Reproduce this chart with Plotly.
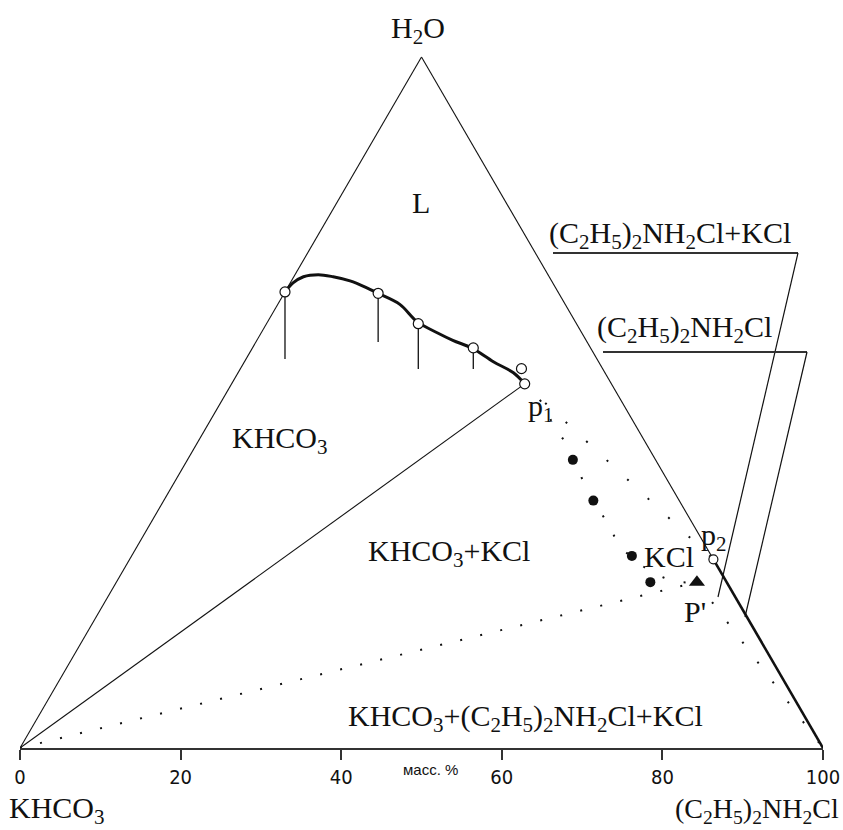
import numpy as np
import plotly.graph_objects as go

SQ = np.sqrt(3) / 2

# Compositions, mass %: a = (C2H5)2NH2Cl, w = H2O, KHCO3 = 100 - a - w
curve_a = [0.0, 0.35, 1.2, 2.9, 4.9, 7.3, 9.9, 11.7, 15.2, 18.6, 21.9, 24.4, 27.5, 31.0, 34.3, 36.5]
curve_w = [66.0, 67.3, 68.2, 68.5, 68.2, 67.6, 66.6, 65.8, 64.2, 61.7, 60.1, 59.0, 57.8, 55.9, 54.3, 52.7]

open_a = [0.0, 11.7, 18.9, 27.5, 35.0]
open_w = [66.0, 65.8, 61.4, 57.9, 54.9]

stub_end_a = [4.7, 15.3, 22.0, 29.0]
stub_end_w = [56.3, 58.75, 54.85, 54.85]

p1 = (36.5, 52.7)
p2 = (72.7, 27.3)
p_prime = (72.3, 24.0)

filled_a = [48.0, 53.5, 62.3, 66.5]
filled_w = [41.7, 35.8, 27.8, 24.0]

kcl_curve_a = [36.5, 40.2, 43.1, 46.0, 51.5, 57.1, 60.2, 64.1, 67.6, 70.4, 72.3]
kcl_curve_w = [52.7, 49.8, 46.7, 44.0, 37.9, 32.3, 29.2, 26.5, 24.75, 24.0, 24.0]

tick_vals = [0, 20, 40, 60, 80, 100]
tick_text = ["0", "20", "40", "60", "80", "100"]

KHCO3 = (0.0, 0.0)
AMINE = (100.0, 0.0)
WATER = (0.0, 100.0)


def cart(a, w):
    a = np.asarray(a, dtype=float)
    w = np.asarray(w, dtype=float)
    return a + w / 2.0, w * SQ


# pixel helpers for layout placement (figure is 843x830)
PX_X = 8.03
PX_Y = 7.979


def dx(px):
    return (px - 20) / PX_X


def dy(py):
    return (748 - py) / PX_Y


fig = go.Figure()
BLK = "#111111"


def line(a, w, width=1.0, dash="solid", color=BLK, shape="linear"):
    x, y = cart(a, w)
    fig.add_trace(go.Scatter(x=x, y=y, mode="lines", cliponaxis=False,
                             line=dict(color=color, width=width, dash=dash, shape=shape),
                             hoverinfo="skip", showlegend=False))


# triangle sides
line([KHCO3[0], WATER[0]], [KHCO3[1], WATER[1]], width=1.1)
line([WATER[0], AMINE[0]], [WATER[1], AMINE[1]], width=1.1)

# solubility curve of KHCO3
line(curve_a, curve_w, width=3.0, shape="spline")

# vertical stubs
for i in range(len(stub_end_a)):
    xs, ys = cart([open_a[i]], [open_w[i]])
    xe, ye = cart([stub_end_a[i]], [stub_end_w[i]])
    fig.add_trace(go.Scatter(x=[xs[0], xs[0]], y=[ys[0], ye[0]], mode="lines",
                             line=dict(color=BLK, width=1.3), hoverinfo="skip", showlegend=False))

# KHCO3 - p1 solid
line([KHCO3[0], p1[0]], [KHCO3[1], p1[1]], width=1.1)
# p1 - p2 dotted
line([p1[0], p2[0]], [p1[1], p2[1]], width=2, dash="2px,26px")
# KCl curve p1 - P'
line(kcl_curve_a, kcl_curve_w, width=2, dash="2px,20px", shape="spline")
# KHCO3 - P' dotted
line([KHCO3[0], p_prime[0]], [KHCO3[1], p_prime[1]], width=2, dash="2px,18.6px")
# P' - amine dotted
line([p_prime[0], AMINE[0]], [p_prime[1], AMINE[1]], width=2, dash="2px,23px")
# amine branch p2 - vertex thick
line([p2[0], AMINE[0]], [p2[1], AMINE[1]], width=2.6)

# markers
x, y = cart(filled_a, filled_w)
fig.add_trace(go.Scatter(x=x, y=y, mode="markers", marker=dict(symbol="circle", size=10, color=BLK),
                         hoverinfo="skip", showlegend=False))
x, y = cart(open_a + [p1[0]], open_w + [p1[1]])
fig.add_trace(go.Scatter(x=x, y=y, mode="markers", cliponaxis=False,
                         marker=dict(symbol="circle", size=10, color="white", line=dict(color=BLK, width=1.2)),
                         hoverinfo="skip", showlegend=False))
x, y = cart([p2[0]], [p2[1]])
fig.add_trace(go.Scatter(x=x, y=y, mode="markers",
                         marker=dict(symbol="circle", size=9, color="white", line=dict(color=BLK, width=1.2)),
                         hoverinfo="skip", showlegend=False))
x, y = cart([p_prime[0]], [p_prime[1]])
fig.add_trace(go.Scatter(x=x, y=y, mode="markers",
                         marker=dict(symbol="triangle-up", size=14, color=BLK),
                         hoverinfo="skip", showlegend=False))

# leader lines for labels
shapes = []
for (x0, x1, yy, ex, ey) in [(553, 798, 253, 718, 597), (603, 807, 352, 745, 617)]:
    shapes.append(dict(type="line", xref="x", yref="y", x0=dx(x0), x1=dx(x1), y0=dy(yy), y1=dy(yy),
                       line=dict(color="#333333", width=2)))
    shapes.append(dict(type="line", xref="x", yref="y", x0=dx(x1), x1=dx(ex), y0=dy(yy), y1=dy(ey),
                       line=dict(color=BLK, width=1.2)))

SERIF = "Liberation Serif, Times New Roman, serif"
anns = []


def label(text, px, py, size=30, font=SERIF, xanchor="center"):
    # paper coordinates: plot area spans px 20..823 and py 0..748
    anns.append(dict(text=text, x=(px - 20) / 803.0, y=(748 - py) / 748.0, xref="paper", yref="paper",
                     showarrow=False, xanchor=xanchor, yanchor="middle",
                     font=dict(family=font, size=size, color=BLK)))


label("H<sub>2</sub>O", 418, 30)
label("L", 421, 203)
label("KHCO<sub>3</sub>", 280, 440)
label("KHCO<sub>3</sub>+KCl", 449, 553)
label("KHCO<sub>3</sub>+(C<sub>2</sub>H<sub>5</sub>)<sub>2</sub>NH<sub>2</sub>Cl+KCl", 525, 718)
label("p<sub>1</sub>", 541, 408)
label("p<sub>2</sub>", 714, 537)
label("KCl", 669, 556)
label("P'", 695, 611)
label("(C<sub>2</sub>H<sub>5</sub>)<sub>2</sub>NH<sub>2</sub>Cl+KCl", 670, 235)
label("(C<sub>2</sub>H<sub>5</sub>)<sub>2</sub>NH<sub>2</sub>Cl", 684, 329)
label("KHCO<sub>3</sub>", 57, 810)
label("(C<sub>2</sub>H<sub>5</sub>)<sub>2</sub>NH<sub>2</sub>Cl", 841, 810, size=28, xanchor="right")
label("масс. %", 430, 770, size=15, font="Liberation Sans, Arial, sans-serif")

fig.update_layout(
    width=843, height=830,
    margin=dict(l=20, r=20, t=0, b=82),
    paper_bgcolor="white", plot_bgcolor="white",
    shapes=shapes, annotations=anns,
    xaxis=dict(range=[0, 100], showgrid=False, zeroline=False, showline=True, linecolor="#333333",
               linewidth=2, ticks="outside", ticklen=10, tickwidth=1.5, tickcolor="#333333",
               tickvals=tick_vals, ticktext=tick_text,
               tickfont=dict(family="DejaVu Sans Condensed, Arial Narrow, sans-serif",
                             size=20, color=BLK)),
    yaxis=dict(range=[0, 748 / PX_Y], visible=False, showgrid=False, zeroline=False),
)

fig.write_html("out.html", config={"displayModeBar": False},
               post_script="document.body.style.margin='0px';")
